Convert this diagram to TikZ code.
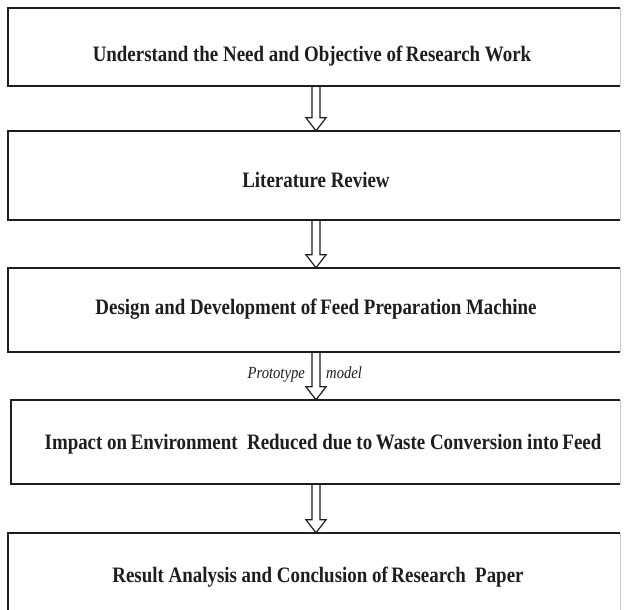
\documentclass[tikz,border=0pt]{standalone}
\usepackage{fontspec}
\setmainfont[FakeStretch=0.86]{Liberation Serif}
\usetikzlibrary{calc}
\definecolor{ink}{HTML}{1E1E1E}
\definecolor{faintline}{HTML}{C8C8C8}
\begin{document}
\begin{tikzpicture}[x=1pt,y=-1pt,
  stepbox/.style={draw=none, inner sep=0pt, minimum width=#1},
  edge/.style={draw=ink, line width=1.7pt, line join=miter},
  faint/.style={draw=faintline, line width=0.8pt},
  txt/.style={font=\fontsize{22}{26}\selectfont\bfseries, text=ink, anchor=base, inner sep=0pt},
  lab/.style={font=\fontsize{17}{20}\selectfont\itshape, text=ink, inner sep=0pt},
  arr/.style={draw=ink, line width=1.2pt, line join=miter}]
\useasboundingbox (0,0) rectangle (625,610);
\fill[white] (0,0) rectangle (625,610);
\coordinate (ax) at (316,0);
% boxes
\node[stepbox=612, minimum height=78] (b1) at (314,47) {};
\node[stepbox=612, minimum height=89] (b2) at (314,175.5) {};
\node[stepbox=612, minimum height=84] (b3) at (314,310) {};
\node[stepbox=609, minimum height=84] (b4) at (315.5,442) {};
\node[stepbox=612, minimum height=77] (b5) at (314,571.5) {};
\foreach \b in {b1,b2,b3,b4}{
  \draw[edge] (\b.north east) -- (\b.north west) -- (\b.south west) -- (\b.south east);
  \draw[faint] (\b.north east) -- (\b.south east);
}
\draw[edge] (b5.south west) -- (b5.north west) -- (b5.north east);
\draw[faint] (b5.north east) -- (b5.south east);
% texts
\node[txt] (t1) at (312,62) {Understand\ the Need\ and Objective of\,Research\ Work};
\node[txt] (t2) at (316,187) {Literature\ Review};
\node[txt] (t3) at (316,314) {Design and Development of\,Feed\ Preparation\ Machine};
\node[txt] (t4) at (323,449) {Impact on\,Environment\ \ Reduced due to\,Waste Conversion into\,Feed};
\node[txt] (t5) at (318,582) {Result Analysis and Conclusion of\,Research\ \ Paper};
% hollow arrows
\newcommand\hollowarr[2]{%
  \draw[arr] ($(#1.south -| ax)+(-4,0)$) -- ($(#2.north -| ax)+(-4,-13)$)
    -- ($(#2.north -| ax)+(-10,-13)$) -- (#2.north -| ax)
    -- ($(#2.north -| ax)+(10,-13)$) -- ($(#2.north -| ax)+(4,-13)$)
    -- ($(#1.south -| ax)+(4,0)$);}
\hollowarr{b1}{b2}
\hollowarr{b2}{b3}
\hollowarr{b3}{b4}
\hollowarr{b4}{b5}
\node[lab, anchor=base east] (l1) at (305,378) {Prototype};
\node[lab, anchor=base west] (l2) at (326,378) {model};
\end{tikzpicture}
\end{document}
